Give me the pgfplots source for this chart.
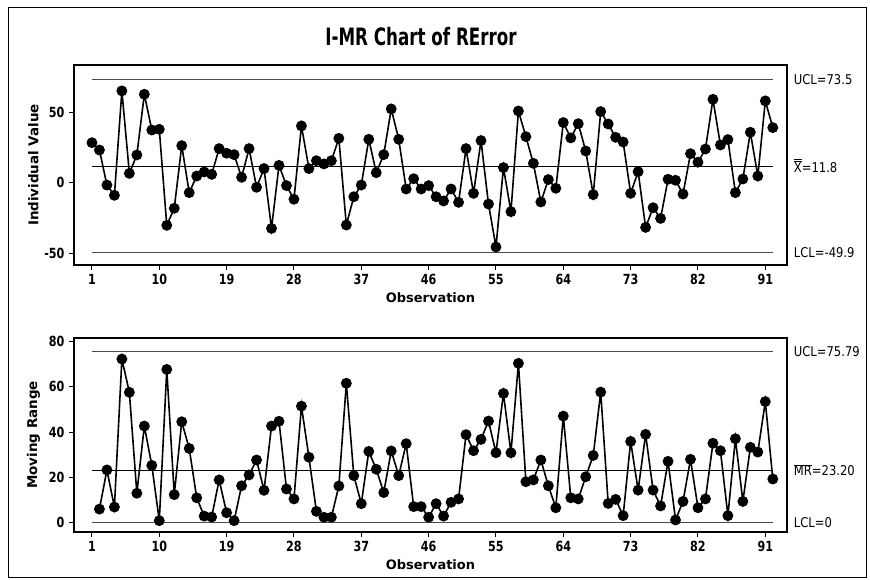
\documentclass[border=0pt]{standalone}
\usepackage{fontspec}
\setmainfont{DejaVu Sans}
\newfontfamily\condfont[FakeStretch=0.86]{DejaVu Sans}
\newfontfamily\tickfont[FakeStretch=0.80]{DejaVu Sans}
\newfontfamily\titlefont[FakeStretch=0.70]{DejaVu Sans}
\usepackage{pgfplots}
\usepackage{pgfplotstable}
\pgfplotsset{compat=1.18}

\pgfplotstableread{
obs val
1 28.4
2 23.2
3 -1.7
4 -9.0
5 65.2
6 6.6
7 19.7
8 62.8
9 37.4
10 37.9
11 -30.3
12 -18.2
13 26.3
14 -7.1
15 4.7
16 7.6
17 5.9
18 24.2
19 20.9
20 19.9
21 3.8
22 24.2
23 -3.3
24 10.0
25 -32.5
26 12.3
27 -2.1
28 -11.8
29 40.3
30 10.0
31 15.6
32 13.3
33 15.6
34 31.5
35 -30.1
36 -10.0
37 -1.7
38 30.8
39 7.1
40 19.9
41 52.4
42 30.8
43 -4.5
44 2.8
45 -4.5
46 -2.1
47 -10.0
48 -13.0
49 -4.5
50 -14.0
51 24.2
52 -7.6
53 29.9
54 -15.2
55 -45.7
56 10.7
57 -20.6
58 50.9
59 32.7
60 13.7
61 -13.7
62 2.2
63 -4.0
64 42.7
65 31.8
66 41.9
67 22.5
68 -8.5
69 50.5
70 41.7
71 32.2
72 28.9
73 -7.6
74 7.8
75 -31.8
76 -17.8
77 -25.4
78 2.4
79 1.7
80 -8.1
81 20.6
82 14.5
83 23.9
84 59.2
85 26.8
86 30.6
87 -7.1
88 2.6
89 35.8
90 4.7
91 58.1
92 39.1
}\Xdata

\pgfplotstableread{
obs val
2 6.0
3 23.3
4 6.9
5 72.3
6 57.6
7 13.0
8 42.7
9 25.3
10 0.9
11 67.7
12 12.4
13 44.6
14 32.8
15 11.0
16 2.9
17 2.5
18 18.9
19 4.4
20 0.9
21 16.3
22 21.1
23 27.7
24 14.3
25 42.7
26 44.8
27 14.9
28 10.5
29 51.5
30 28.9
31 5.0
32 2.4
33 2.4
34 16.2
35 61.6
36 20.8
37 8.4
38 31.5
39 23.6
40 13.3
41 31.7
42 20.8
43 34.9
44 7.1
45 7.1
46 2.4
47 8.4
48 2.9
49 9.0
50 10.5
51 38.9
52 31.8
53 36.8
54 44.9
55 30.9
56 57.1
57 30.9
58 70.4
59 18.1
60 18.9
61 27.7
62 16.3
63 6.6
64 47.1
65 11.0
66 10.5
67 20.3
68 29.7
69 57.7
70 8.5
71 10.3
72 3.1
73 35.9
74 14.4
75 39.0
76 14.4
77 7.4
78 27.1
79 1.2
80 9.4
81 28.0
82 6.6
83 10.5
84 35.1
85 31.8
86 3.1
87 37.1
88 9.4
89 33.3
90 31.2
91 53.5
92 19.3
}\MRdata

\pgfplotsset{
  imr/.style={
    scale only axis, width=713bp, anchor=south west,
    xmin=-1.4, xmax=93.9,
    xtick={1,10,...,91},
    tick pos=left, tick align=outside,
    major tick length=5bp,
    axis line style={line width=1.8bp},
    every tick/.style={black,line width=1bp},
    ticklabel style={font=\tickfont\bfseries\fontsize{14}{16}\selectfont},
    xticklabel style={yshift=-1bp},
    yticklabel style={xshift=-1bp},
    /pgf/number format/assume math mode=true,
    clip=false,
    xlabel={Observation},
    every axis x label/.style={at={(axis description cs:0.5,0)},anchor=center,yshift=-32.7bp,
      font=\bfseries\fontsize{13}{15}\selectfont},
    every axis y label/.style={at={(axis description cs:-0.057,0.5)},anchor=center,rotate=90,
      font=\bfseries\fontsize{13.5}{15}\selectfont},
  },
  data/.style={black, line width=1.6bp, mark=*, mark size=4.6bp, mark options={fill=black,solid}},
  ctrl/.style={black!70, line width=0.8bp, no marks},
}
\tikzset{rlab/.style={anchor=west, font=\condfont\fontsize{13.5}{15}\selectfont, inner sep=0pt}}

\begin{document}
\begin{tikzpicture}[x=1bp,y=1bp]
\path[use as bounding box] (0,0) rectangle (870,580);
\draw[line width=0.9bp] (8,3) rectangle (866,573);
\node[font=\titlefont\bfseries\fontsize{24}{28}\selectfont] at (421,543) {I-MR Chart of RError};

\begin{axis}[imr, at={(74bp,315bp)}, height=200bp,
  ymin=-58.5, ymax=83.6,
  ytick={-50,0,50}, yticklabels={-50,0,50},
  ylabel={Individual Value}]
\addplot[ctrl] coordinates {(1,73.5) (92,73.5)};
\addplot[ctrl, black] coordinates {(1,11.8) (92,11.8)};
\addplot[ctrl] coordinates {(1,-49.9) (92,-49.9)};
\addplot[data] table[x=obs,y=val] {\Xdata};
\node[rlab] at (axis cs:94.8,73.5) {UCL=73.5};
\node[rlab] at (axis cs:94.8,11.8) {$\overline{\overline{\mbox{X}}}$=11.8};
\node[rlab] at (axis cs:94.8,-49.9) {LCL=-49.9};
\end{axis}

\begin{axis}[imr, at={(74bp,48.3bp)}, height=193.7bp,
  ymin=-3.98, ymax=81.6,
  ytick={0,20,40,60,80},
  ylabel={Moving Range}]
\addplot[ctrl] coordinates {(1,75.79) (92,75.79)};
\addplot[ctrl, black] coordinates {(1,23.20) (92,23.20)};
\addplot[ctrl] coordinates {(1,0) (92,0)};
\addplot[data] table[x=obs,y=val] {\MRdata};
\node[rlab] at (axis cs:94.8,75.79) {UCL=75.79};
\node[rlab] at (axis cs:94.8,23.20) {$\overline{\mbox{MR}}$=23.20};
\node[rlab] at (axis cs:94.8,0) {LCL=0};
\end{axis}
\end{tikzpicture}
\end{document}
